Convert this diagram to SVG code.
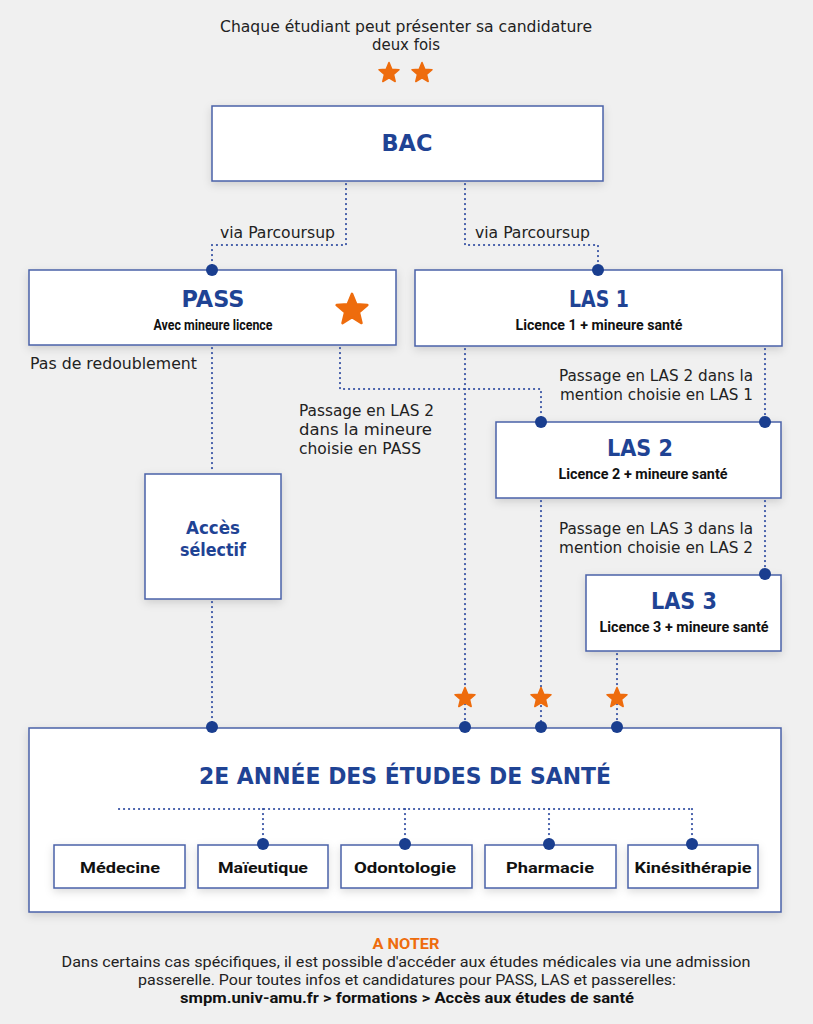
<svg xmlns="http://www.w3.org/2000/svg" width="813" height="1024" viewBox="0 0 813 1024">
<defs>
<filter id="sh" x="-10%" y="-20%" width="120%" height="150%">
<feDropShadow dx="0" dy="3" stdDeviation="4" flood-color="#000" flood-opacity="0.14"/>
</filter>
<path id="star" d="M0,-10 L2.65,-3.64 L9.51,-3.09 L4.28,1.39 L5.88,8.09 L0,4.5 L-5.88,8.09 L-4.28,1.39 L-9.51,-3.09 L-2.65,-3.64Z"/>
</defs>
<style>
.box{fill:#fff;stroke:#4a62a8;stroke-width:1.5;filter:url(#sh)}
.title{font-family:"DejaVu Sans","Noto Sans",sans-serif;font-weight:700;fill:#1f4394;text-anchor:middle}
.sub{font-family:Roboto,"Noto Sans",sans-serif;font-weight:700;fill:#111;text-anchor:middle;font-size:14.5px}
.txt{font-family:"DejaVu Sans","Noto Sans",sans-serif;fill:#222;font-size:15px}
.ctr{text-anchor:middle}
.dl{fill:none;stroke:#3551a3;stroke-width:2.2;stroke-dasharray:0.1 4.9;stroke-linecap:round}
.dot{fill:#1a3e8f}
.st{fill:#ee6c0d;stroke:#ee6c0d;stroke-width:1.5;stroke-linejoin:round}
</style>
<rect width="813" height="1024" fill="#f0f0f0"/>

<g id="header">
<text class="txt ctr" x="406" y="32" textLength="372" lengthAdjust="spacingAndGlyphs">Chaque étudiant peut présenter sa candidature</text>
<text class="txt ctr" x="406" y="50" textLength="68" lengthAdjust="spacingAndGlyphs">deux fois</text>
<use href="#star" class="st" transform="translate(389,73) scale(1.05)"/>
<use href="#star" class="st" transform="translate(422,73) scale(1.05)"/>
</g>

<g id="bac">
<rect class="box" x="212" y="106" width="391" height="75"/>
<text class="title" x="407" y="151" font-size="23" textLength="51" lengthAdjust="spacingAndGlyphs">BAC</text>
</g>

<g id="pass">
<rect class="box" x="29" y="270" width="367" height="75"/>
<text class="title" x="213" y="307" font-size="23" textLength="63" lengthAdjust="spacingAndGlyphs">PASS</text>
<text class="sub" x="213" y="330" textLength="119" lengthAdjust="spacingAndGlyphs">Avec mineure licence</text>
<use href="#star" class="st" transform="translate(352,310) scale(1.62)"/>
</g>

<g id="las1">
<rect class="box" x="415" y="270" width="367" height="76"/>
<text class="title" x="599" y="307" font-size="23" textLength="60" lengthAdjust="spacingAndGlyphs">LAS 1</text>
<text class="sub" x="599" y="330" textLength="167" lengthAdjust="spacingAndGlyphs">Licence 1 + mineure santé</text>
</g>

<g id="las2">
<rect class="box" x="496" y="422" width="285" height="76"/>
<text class="title" x="640" y="456" font-size="23" textLength="66" lengthAdjust="spacingAndGlyphs">LAS 2</text>
<text class="sub" x="643" y="479" textLength="169" lengthAdjust="spacingAndGlyphs">Licence 2 + mineure santé</text>
</g>

<g id="las3">
<rect class="box" x="586" y="575" width="195" height="76"/>
<text class="title" x="684" y="609" font-size="23" textLength="66" lengthAdjust="spacingAndGlyphs">LAS 3</text>
<text class="sub" x="684" y="632" textLength="169" lengthAdjust="spacingAndGlyphs">Licence 3 + mineure santé</text>
</g>

<g id="acces">
<rect class="box" x="145" y="474" width="136" height="125"/>
<text class="title" x="213" y="534" font-size="17" textLength="54" lengthAdjust="spacingAndGlyphs">Accès</text>
<text class="title" x="213" y="556" font-size="17" textLength="66" lengthAdjust="spacingAndGlyphs">sélectif</text>
</g>

<g id="annee2">
<rect class="box" x="29" y="728" width="752" height="184"/>
<text class="title" x="405" y="784" font-size="23" textLength="412" lengthAdjust="spacingAndGlyphs">2E ANNÉE DES ÉTUDES DE SANTÉ</text>
</g>

<g id="medecine">
<rect class="box" x="54" y="845" width="131" height="43"/>
<text class="sub" x="120" y="873" textLength="80" lengthAdjust="spacingAndGlyphs">Médecine</text>
</g>
<g id="maieutique">
<rect class="box" x="198" y="845" width="130" height="43"/>
<text class="sub" x="263" y="873" textLength="90" lengthAdjust="spacingAndGlyphs">Maïeutique</text>
</g>
<g id="odontologie">
<rect class="box" x="341" y="845" width="131" height="43"/>
<text class="sub" x="405" y="873" textLength="102" lengthAdjust="spacingAndGlyphs">Odontologie</text>
</g>
<g id="pharmacie">
<rect class="box" x="485" y="845" width="131" height="43"/>
<text class="sub" x="550" y="873" textLength="88" lengthAdjust="spacingAndGlyphs">Pharmacie</text>
</g>
<g id="kine">
<rect class="box" x="628" y="845" width="130" height="43"/>
<text class="sub" x="693" y="873" textLength="117" lengthAdjust="spacingAndGlyphs">Kinésithérapie</text>
</g>

<g id="connectors">
<polyline class="dl" points="346,184 346,245 212,245 212,266"/>
<polyline class="dl" points="465,184 465,245 598,245 598,266"/>
<line class="dl" x1="212" y1="348" x2="212" y2="472"/>
<line class="dl" x1="212" y1="602" x2="212" y2="723"/>
<polyline class="dl" points="340,348 340,389 541,389 541,418"/>
<line class="dl" x1="465" y1="349" x2="465" y2="723"/>
<line class="dl" x1="765" y1="349" x2="765" y2="418"/>
<line class="dl" x1="541" y1="501" x2="541" y2="723"/>
<line class="dl" x1="765" y1="501" x2="765" y2="570"/>
<line class="dl" x1="617" y1="654" x2="617" y2="723"/>
<polyline class="dl" points="119,809 692,809"/>
<line class="dl" x1="263" y1="809" x2="263" y2="840"/>
<line class="dl" x1="405" y1="809" x2="405" y2="840"/>
<line class="dl" x1="549" y1="809" x2="549" y2="840"/>
<line class="dl" x1="692" y1="809" x2="692" y2="840"/>
<circle class="dot" cx="212" cy="270" r="6"/>
<circle class="dot" cx="598" cy="270" r="6"/>
<circle class="dot" cx="541" cy="422" r="6"/>
<circle class="dot" cx="765" cy="422" r="6"/>
<circle class="dot" cx="765" cy="574" r="6"/>
<circle class="dot" cx="212" cy="727" r="6"/>
<circle class="dot" cx="465" cy="727" r="6"/>
<circle class="dot" cx="541" cy="727" r="6"/>
<circle class="dot" cx="617" cy="727" r="6"/>
<circle class="dot" cx="263" cy="844" r="6"/>
<circle class="dot" cx="405" cy="844" r="6"/>
<circle class="dot" cx="549" cy="844" r="6"/>
<circle class="dot" cx="692" cy="844" r="6"/>
<use href="#star" class="st" transform="translate(465,698) scale(1.05)"/>
<use href="#star" class="st" transform="translate(541,698) scale(1.05)"/>
<use href="#star" class="st" transform="translate(617,698) scale(1.05)"/>
<text class="txt" x="220" y="238" textLength="115" lengthAdjust="spacingAndGlyphs">via Parcoursup</text>
<text class="txt" x="475" y="238" textLength="115" lengthAdjust="spacingAndGlyphs">via Parcoursup</text>
<text class="txt" x="30" y="369" textLength="167" lengthAdjust="spacingAndGlyphs">Pas de redoublement</text>
<text class="txt" x="299" y="416" textLength="135" lengthAdjust="spacingAndGlyphs">Passage en LAS 2</text>
<text class="txt" x="299" y="435" textLength="133" lengthAdjust="spacingAndGlyphs">dans la mineure</text>
<text class="txt" x="299" y="454" textLength="122" lengthAdjust="spacingAndGlyphs">choisie en PASS</text>
<text class="txt" x="559" y="381" textLength="194" lengthAdjust="spacingAndGlyphs">Passage en LAS 2 dans la</text>
<text class="txt" x="560" y="400" textLength="193" lengthAdjust="spacingAndGlyphs">mention choisie en LAS 1</text>
<text class="txt" x="559" y="534" textLength="194" lengthAdjust="spacingAndGlyphs">Passage en LAS 3 dans la</text>
<text class="txt" x="559" y="553" textLength="194" lengthAdjust="spacingAndGlyphs">mention choisie en LAS 2</text>
</g>

<g id="note">
<text x="406" y="949" font-family="Roboto,'Noto Sans',sans-serif" font-weight="700" font-size="14" fill="#ee6c0d" text-anchor="middle" textLength="67" lengthAdjust="spacingAndGlyphs">A NOTER</text>
<text x="406" y="967" font-family="Roboto,'Noto Sans',sans-serif" font-size="14.5" fill="#222" text-anchor="middle" textLength="689" lengthAdjust="spacingAndGlyphs">Dans certains cas spécifiques, il est possible d'accéder aux études médicales via une admission</text>
<text x="407" y="985" font-family="Roboto,'Noto Sans',sans-serif" font-size="14.5" fill="#222" text-anchor="middle" textLength="538" lengthAdjust="spacingAndGlyphs">passerelle. Pour toutes infos et candidatures pour PASS, LAS et passerelles:</text>
<text x="407" y="1003" font-family="Roboto,'Noto Sans',sans-serif" font-weight="700" font-size="14.5" fill="#111" text-anchor="middle" textLength="454" lengthAdjust="spacingAndGlyphs">smpm.univ-amu.fr &gt; formations &gt; Accès aux études de santé</text>
</g>
</svg>
